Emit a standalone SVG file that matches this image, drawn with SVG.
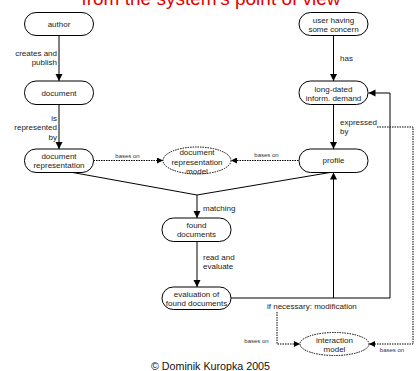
<svg xmlns="http://www.w3.org/2000/svg" width="417" height="371" viewBox="0 0 417 371">
  <style>
    .node rect { fill: #fff; stroke: #000; stroke-width: 1; }
    .model ellipse { fill: #fff; stroke: #000; stroke-width: 1; stroke-dasharray: 1.5 1; }
    text { font-family: "Liberation Sans", Arial, sans-serif; fill: #222; }
    .nt { font-size: 8px; text-anchor: middle; }
    .lbl { font-size: 8px; }
    .r { text-anchor: end; }
    .small { font-size: 6px; text-anchor: middle; fill: #333; }
    .solid { fill: none; stroke: #000; stroke-width: 1; }
    .dot { fill: none; stroke: #000; stroke-width: 1; stroke-dasharray: 1.5 1; }
    .title { font-size: 19px; fill: #e60000; text-anchor: middle; }
  </style>
  <defs>
    <marker id="arr" viewBox="0 0 10 10" refX="10" refY="5" markerWidth="7" markerHeight="9" markerUnits="userSpaceOnUse" orient="auto">
      <path d="M0,0 L10,5 L0,10 Z" fill="#000"/>
    </marker>
    <marker id="arrs" viewBox="0 0 10 10" refX="10" refY="5" markerWidth="6" markerHeight="6" markerUnits="userSpaceOnUse" orient="auto">
      <path d="M0,0 L10,5 L0,10 Z" fill="#000"/>
    </marker>
  </defs>

  <text class="title" x="211" y="5">from the system's point of view</text>

  <g id="connectors">
    <line class="solid" x1="59" y1="35.5" x2="59" y2="81" marker-end="url(#arr)"/>
    <line class="solid" x1="59" y1="104.5" x2="59" y2="149" marker-end="url(#arr)"/>
    <line class="solid" x1="333.5" y1="35.5" x2="333.5" y2="81" marker-end="url(#arr)"/>
    <line class="solid" x1="333.5" y1="104.5" x2="333.5" y2="149" marker-end="url(#arr)"/>
    <polyline class="solid" points="70,172 197,195 330,172.5"/>
    <line class="solid" x1="197" y1="195" x2="197" y2="218" marker-end="url(#arr)"/>
    <line class="solid" x1="197" y1="241.5" x2="197" y2="287" marker-end="url(#arr)"/>
    <polyline class="solid" points="231,298 390,298 390,93 368.5,93" marker-end="url(#arr)"/>
    <line class="solid" x1="333.5" y1="298" x2="333.5" y2="172.5" marker-end="url(#arr)"/>
    <line class="dot" x1="93.5" y1="160.5" x2="163" y2="160.5" marker-end="url(#arrs)"/>
    <line class="dot" x1="298.5" y1="160.5" x2="231" y2="160.5" marker-end="url(#arrs)"/>
    <polyline class="dot" points="377,127 413,127 413,344 369,344" marker-end="url(#arrs)"/>
    <polyline class="dot" points="277,312 277,344 300,344" marker-end="url(#arrs)"/>

    <text class="lbl r" x="57" y="56">creates and</text>
    <text class="lbl r" x="57" y="65">publish</text>
    <text class="lbl r" x="57" y="121">is</text>
    <text class="lbl r" x="57" y="130">represented</text>
    <text class="lbl r" x="57" y="139.5">by</text>
    <text class="lbl" x="340" y="61">has</text>
    <text class="lbl" x="340" y="125">expressed</text>
    <text class="lbl" x="340" y="134">by</text>
    <text class="lbl" x="203" y="211">matching</text>
    <text class="lbl" x="203" y="260">read and</text>
    <text class="lbl" x="203" y="269">evaluate</text>
    <text class="lbl" x="267" y="309">if necessary: modification</text>
    <text class="small" x="127.5" y="158">bases on</text>
    <text class="small" x="266.5" y="157">bases on</text>
    <text class="small" x="256.5" y="343">bases on</text>
    <text class="small" x="392" y="352">bases on</text>
  </g>

  <g id="author" class="node">
    <rect x="24.5" y="12.5" width="69" height="23" rx="11.5"/>
    <text class="nt" x="59" y="26.8">author</text>
  </g>
  <g id="user" class="node">
    <rect x="299" y="12.5" width="69" height="23" rx="11.5"/>
    <text class="nt" x="333.5" y="22.8">user having</text>
    <text class="nt" x="333.5" y="32">some concern</text>
  </g>
  <g id="document" class="node">
    <rect x="24.5" y="81" width="69" height="23.5" rx="11.5"/>
    <text class="nt" x="59" y="95.8">document</text>
  </g>
  <g id="demand" class="node">
    <rect x="299" y="81" width="69" height="23.5" rx="11.5"/>
    <text class="nt" x="333.5" y="91.5">long-dated</text>
    <text class="nt" x="333.5" y="100.5">inform. demand</text>
  </g>
  <g id="docrep" class="node">
    <rect x="24.5" y="149" width="69" height="23.5" rx="11.5"/>
    <text class="nt" x="59" y="158.8">document</text>
    <text class="nt" x="59" y="168.3">representation</text>
  </g>
  <g id="profile" class="node">
    <rect x="299" y="149" width="69" height="23.5" rx="11.5"/>
    <text class="nt" x="333.5" y="163.3">profile</text>
  </g>
  <g id="docrepmodel" class="model">
    <ellipse cx="197" cy="160.5" rx="34" ry="13.5"/>
    <text class="nt" x="197" y="154.8">document</text>
    <text class="nt" x="197" y="164.5">representation</text>
    <text class="nt" x="197" y="174">model</text>
  </g>
  <g id="found" class="node">
    <rect x="162" y="218" width="69" height="23.5" rx="11.5"/>
    <text class="nt" x="196.5" y="227.8">found</text>
    <text class="nt" x="196.5" y="236.8">documents</text>
  </g>
  <g id="evaluation" class="node">
    <rect x="162" y="287" width="69" height="22.5" rx="11.25"/>
    <text class="nt" x="196.5" y="296.8">evaluation of</text>
    <text class="nt" x="196.5" y="305.8">found documents</text>
  </g>
  <g id="interaction" class="model">
    <ellipse cx="334.5" cy="344" rx="34.5" ry="11.5"/>
    <text class="nt" x="334.5" y="342.5">interaction</text>
    <text class="nt" x="334.5" y="351.5">model</text>
  </g>

  <text x="210.5" y="369.5" style="font-size:10.7px;text-anchor:middle;fill:#111">© Dominik Kuropka 2005</text>
</svg>
